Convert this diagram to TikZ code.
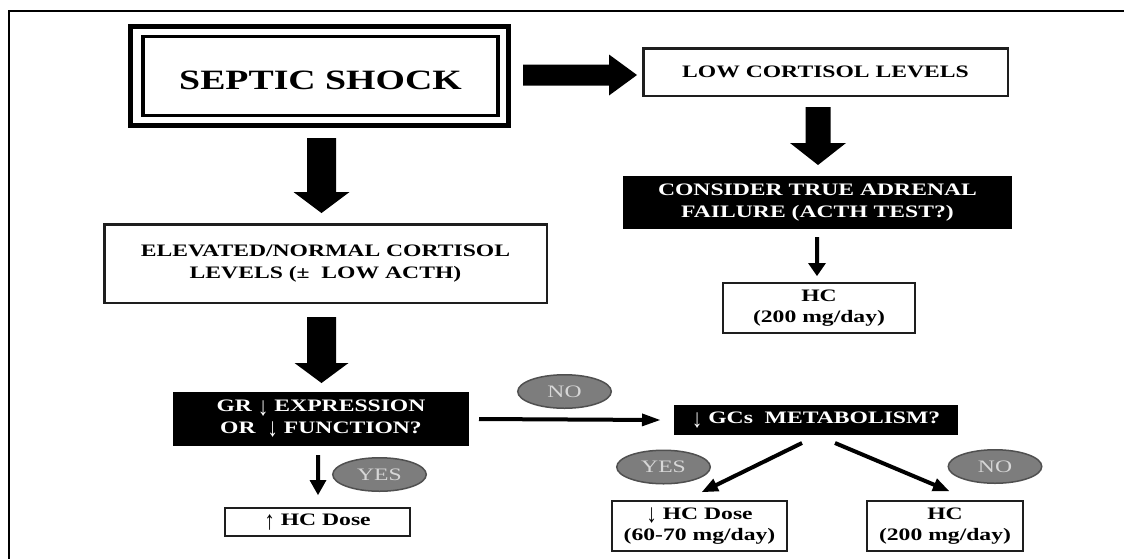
\documentclass[tikz,border=0pt]{standalone}
\usepackage{graphicx}
\usepackage{fontspec}
\setmainfont{Liberation Serif}[FakeStretch=1.35]
\usetikzlibrary{calc,shapes.geometric}
\definecolor{ellfill}{RGB}{125,125,125}
\definecolor{elldraw}{RGB}{80,80,80}
\definecolor{elltext}{RGB}{215,215,215}
\definecolor{boxline}{RGB}{30,30,30}
\newcommand{\dnarr}{\raisebox{-0.2em}{\scalebox{0.9}[1.5]{\mdseries ↓}}}
\newcommand{\uparr}{\raisebox{-0.2em}{\scalebox{0.9}[1.5]{\mdseries ↑}}}
% #1 start, #2 tip, #3 shaft half width, #4 head half width, #5 head length
\newcommand{\blkarrow}[5]{%
  \path ($(#2)!#5!(#1)$) coordinate (bkh);
  \fill[black] ($(#1)!#3!90:(#2)$) -- ($(bkh)!#3!-90:(#1)$) -- ($(bkh)!#4!-90:(#1)$) -- (#2)
    -- ($(bkh)!#4!90:(#1)$) -- ($(bkh)!#3!90:(#1)$) -- ($(#1)!#3!-90:(#2)$) -- cycle;}
\begin{document}
\begin{tikzpicture}[x=1pt,y=-1pt,
  every node/.style={inner sep=0pt, outer sep=0pt, align=center,
    font=\bfseries\fontsize{17.5}{21.5}\selectfont},
  wbox/.style={draw=boxline, line width=#1, fill=white},
  bbox/.style={fill=black, text=white},
  oval/.style={ellipse, fill=ellfill, draw=elldraw, line width=1.5pt,
    minimum width=93.5pt, minimum height=33.5pt, text=elltext,
    font=\fontsize{17.5}{20}\selectfont}]
\useasboundingbox (0,0) rectangle (1124,558);
\draw[line width=2pt] (9,560) -- (9,11) -- (1126,11);

% nodes
\node[draw, line width=5pt, minimum width=378pt, minimum height=99pt] (sepout) at (319.5,76) {};
\node[draw, line width=3.5pt, minimum width=355pt, minimum height=79pt,
  text height=26pt, text depth=0pt,
  font=\bfseries\fontsize{28}{32}\selectfont] (sep) at (320.5,76) {SEPTIC SHOCK};
\node[wbox=2.5pt, minimum width=364.5pt, minimum height=47.5pt] (low) at (825.5,72) {LOW CORTISOL LEVELS};
\node[bbox, minimum width=389pt, minimum height=53pt] (cons) at (817.5,202.5) {CONSIDER TRUE ADRENAL\\FAILURE (ACTH TEST?)};
\node[wbox=2pt, minimum width=192pt, minimum height=50pt] (hc1) at (819,308) {HC\\(200 mg/day)};
\node[wbox=2.5pt, minimum width=442.5pt, minimum height=78.5pt] (elev) at (325.5,263.5) {ELEVATED/NORMAL CORTISOL\\LEVELS (±~~LOW ACTH)};
\node[bbox, minimum width=296pt, minimum height=54pt] (gr) at (321,419) {GR \dnarr{} EXPRESSION\\OR~~\dnarr{} FUNCTION?};
\node[bbox, minimum width=284pt, minimum height=30pt] (gcs) at (816,420) {\dnarr{} GCs~~METABOLISM?};
\node[wbox=2pt, minimum width=185pt, minimum height=28pt] (hcup) at (317.5,522) {\uparr{} HC Dose};
\node[wbox=2pt, minimum width=175pt, minimum height=50pt] (hcdown) at (699.5,526) {\dnarr{} HC Dose\\(60-70 mg/day)};
\node[wbox=2pt, minimum width=156pt, minimum height=50pt] (hc2) at (945,526) {HC\\(200 mg/day)};

\node[oval] (no1) at (564.5,391.5) {NO};
\node[oval] (yes1) at (379.5,474.5) {YES};
\node[oval] (yes2) at (663.5,467) {YES};
\node[oval] (no2) at (995,466.5) {NO};

% connector end points
\coordinate (a1s) at ($(sepout.south)+(2,12.5)$);
\coordinate (a1e) at ($(elev.north)+(-4,-11.25)$);
\coordinate (a2s) at ($(sepout.east)+(14.5,-1)$);
\coordinate (a2e) at ($(low.west)+(-6.25,3)$);
\coordinate (a3s) at ($(low.south)+(-7.5,11.25)$);
\coordinate (a3e) at ($(cons.north)+(0.5,-11)$);
\coordinate (a4s) at ($(elev.south)+(-4,14.25)$);
\coordinate (a4e) at ($(gr.north)+(0.5,-9)$);
\coordinate (a5s) at ($(cons.south)+(-0.5,8)$);
\coordinate (a5e) at ($(hc1.north)+(-2,-7)$);
\coordinate (a6s) at ($(gr.south)+(-3,9)$);
\coordinate (a6e) at ($(hcup.north)+(0.5,-13)$);
\coordinate (a7s) at ($(gr.east)+(10,0)$);
\coordinate (a7e) at ($(gcs.west)+(-14,0)$);
\coordinate (a8s) at ($(gcs.south)+(-14,8)$);
\coordinate (a8e) at ($(hcdown.north)+(2.5,-9)$);
\coordinate (a9s) at ($(gcs.south)+(19,8)$);
\coordinate (a9e) at ($(hc2.north)+(4,-10)$);

% connectors
\blkarrow{a1s}{a1e}{14.5pt}{28pt}{21pt}
\blkarrow{a2s}{a2e}{10.5pt}{20.5pt}{28pt}
\blkarrow{a3s}{a3e}{12.5pt}{28pt}{22pt}
\blkarrow{a4s}{a4e}{14.5pt}{27pt}{20pt}
\blkarrow{a5s}{a5e}{2pt}{9pt}{13pt}
\blkarrow{a6s}{a6e}{2pt}{8.5pt}{15pt}
\blkarrow{a7s}{a7e}{2pt}{6.5pt}{18pt}
\blkarrow{a8s}{a8e}{2pt}{7pt}{16pt}
\blkarrow{a9s}{a9e}{2pt}{7pt}{16pt}
\end{tikzpicture}
\end{document}
